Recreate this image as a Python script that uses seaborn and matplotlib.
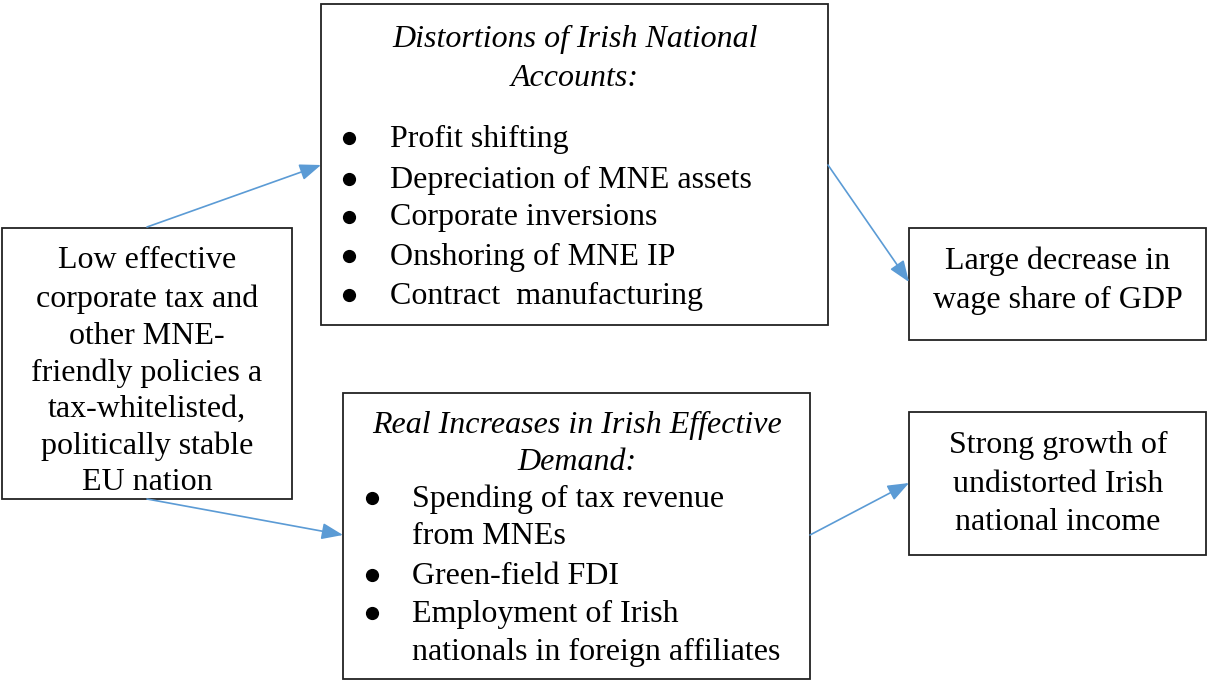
"""
Flow diagram: Irish national accounts distortions vs real demand effects.
"""

import matplotlib.pyplot as plt
import seaborn as sns
from matplotlib.patches import Rectangle

# texts of the diagram
source_lines = ["Low effective", "corporate tax and", "other MNE-", "friendly policies a",
                "tax-whitelisted,", "politically stable", "EU nation"]
distort_title = ["Distortions of Irish National", "Accounts:"]
distort_items = ["Profit shifting", "Depreciation of MNE assets", "Corporate inversions",
                 "Onshoring of MNE IP", "Contract  manufacturing"]
real_title = ["Real Increases in Irish Effective", "Demand:"]
real_items = [["Spending of tax revenue", "from MNEs"], ["Green-field FDI"],
              ["Employment of Irish", "nationals in foreign affiliates"]]
wage_lines = ["Large decrease in", "wage share of GDP"]
growth_lines = ["Strong growth of", "undistorted Irish", "national income"]

sns.set_style('white')
plt.rcParams['font.family'] = ['Liberation Serif', 'DejaVu Serif']
plt.rcParams['text.color'] = 'black'

fig = plt.figure(figsize=(12.07, 6.8), dpi=100)
ax = fig.add_axes([0, 0, 1, 1])
ax.set_xlim(0, 1207)
ax.set_ylim(680, 0)
ax.axis('off')

FS = 23
DY = 2  # small downward nudge so caps sit on the line centre
arrow_color = '#5B9BD5'


def box(x0, y0, x1, y1):
    ax.add_patch(Rectangle((x0, y0), x1 - x0, y1 - y0, fill=False,
                           edgecolor='#222222', linewidth=1.3, clip_on=False))


def label(x, y, s, ha='center', italic=False):
    ax.text(x, y + DY, s, ha=ha, va='center', fontsize=FS, color='black',
            style='italic' if italic else 'normal')


def bullet(x, y):
    # round bullet, drawn as a marker so it does not clash with the item text
    ax.plot([x], [y + 1], marker='o', markersize=8.5, color='black', clip_on=False)


def arrow(x0, y0, x1, y1):
    ax.annotate('', xy=(x1, y1), xytext=(x0, y0),
                arrowprops=dict(arrowstyle='-|>,head_length=1.3,head_width=0.5',
                                color=arrow_color, lw=1.2, shrinkA=0, shrinkB=0))


# boxes
box(2, 228, 292, 499)
box(321, 4, 828, 325)
box(909, 228, 1206, 340)
box(343, 393, 810, 679)
box(909, 412, 1206, 555)

# left box
for s, y in zip(source_lines, [259, 297, 334, 371, 407, 444, 480]):
    label(147, y, s)

# top box
for s, y in zip(distort_title, [37, 76]):
    label(575, y, s, italic=True)
for s, y in zip(distort_items, [137, 178, 216, 255, 294]):
    bullet(349, y)
    label(390, y, s, ha='left')

# bottom box
for s, y in zip(real_title, [423, 460]):
    label(577, y, s, italic=True)
ys = [[497, 534], [574], [612, 650]]
for item, yy in zip(real_items, ys):
    bullet(372, yy[0])
    for s, y in zip(item, yy):
        label(412, y, s, ha='left')

# right boxes
for s, y in zip(wage_lines, [259, 298]):
    label(1058, y, s)
for s, y in zip(growth_lines, [443, 482, 520]):
    label(1058, y, s)

# arrows
arrow(147, 227, 321, 165)
arrow(828, 165, 909, 282)
arrow(147, 499, 343, 535)
arrow(810, 535, 909, 483)

plt.savefig('out.png', dpi=100)
